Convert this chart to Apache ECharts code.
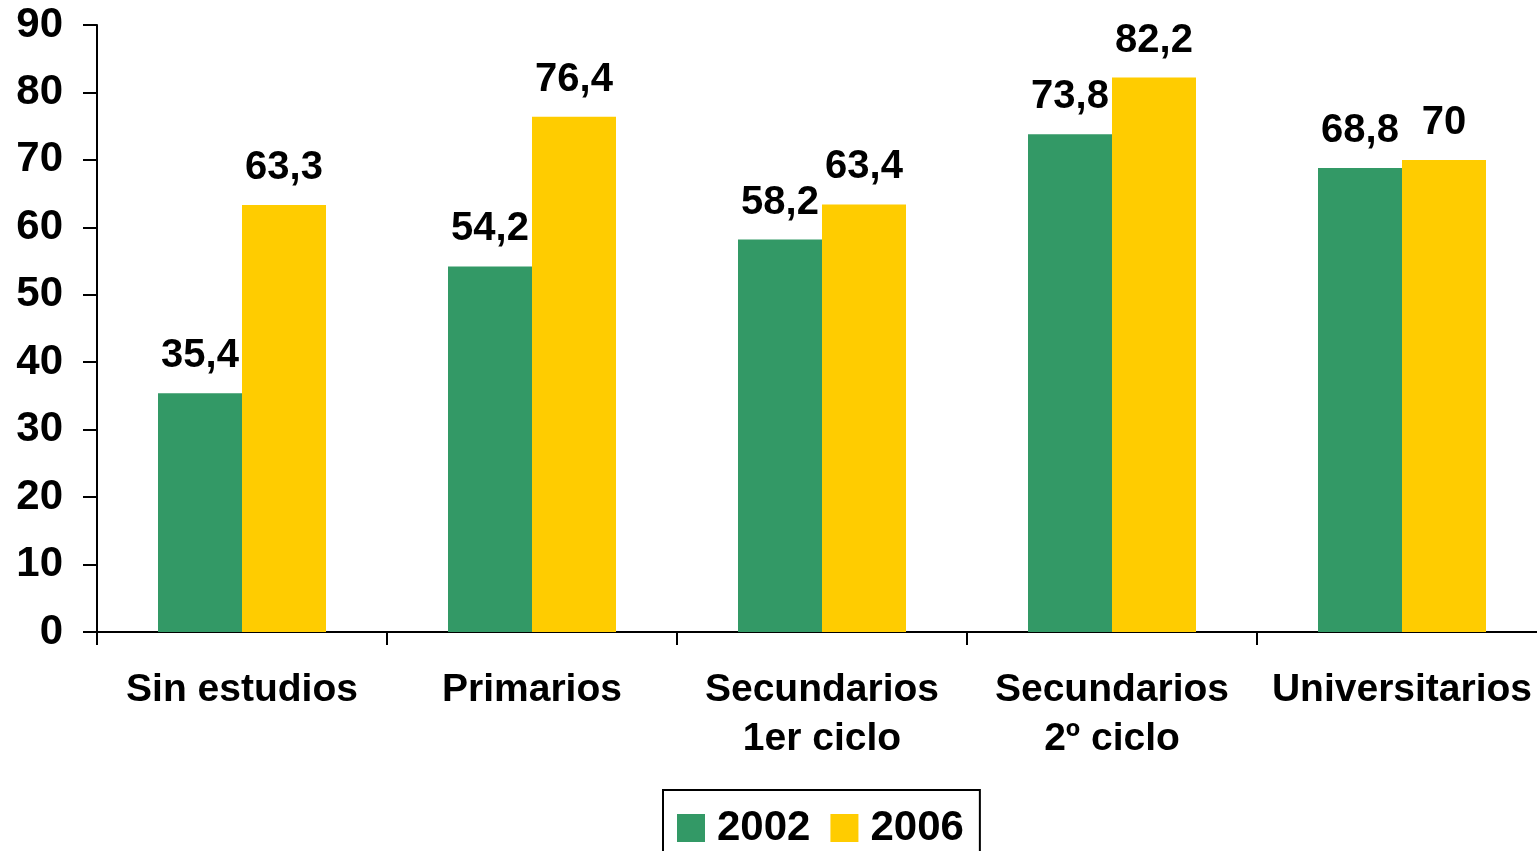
<!DOCTYPE html>
<html>
<head>
<meta charset="utf-8">
<script src="https://cdn.jsdelivr.net/npm/echarts@6/dist/echarts.min.js"></script>
<style>
  html, body { margin: 0; padding: 0; background: #ffffff; }
  #chart { width: 1537px; height: 851px; }
</style>
</head>
<body>
<div id="chart"></div>
<script>
// Education levels (x axis) and percentages per survey year
const categories = ['Sin estudios', 'Primarios', 'Secundarios\n1er ciclo', 'Secundarios\n2º ciclo', 'Universitarios'];
const values2002 = [35.4, 54.2, 58.2, 73.8, 68.8];
const values2006 = [63.3, 76.4, 63.4, 82.2, 70];
const seriesNames = ['2002', '2006'];
const yTicks = { min: 0, max: 90, interval: 10 };

const FONT = '"Liberation Sans", Arial, sans-serif';
const GREEN = '#339966';
const YELLOW = '#FFCC00';

const valueLabel = {
  show: true,
  position: 'top',
  distance: 17,
  color: '#000',
  fontFamily: FONT,
  fontWeight: 'bold',
  fontSize: 40,
  formatter: p => String(p.value).replace('.', ',')
};

const chart = echarts.init(document.getElementById('chart'), null, { renderer: 'canvas' });
chart.setOption({
  animation: false,
  backgroundColor: '#ffffff',
  // plot area runs a little past the right edge of the canvas
  grid: { left: 97, top: 25, bottom: 219, width: 1450, containLabel: false, outerBoundsMode: 'none' },
  legend: {
    data: seriesNames,
    left: 663,
    top: 790,
    orient: 'horizontal',
    icon: 'rect',
    itemWidth: 28,
    itemHeight: 28,
    itemGap: 20,
    padding: [17, 16, 19, 14],
    borderColor: '#000',
    borderWidth: 2,
    textStyle: { color: '#000', fontFamily: FONT, fontWeight: 'bold', fontSize: 42, padding: [0, 0, 0, 7] }
  },
  xAxis: {
    type: 'category',
    data: categories,
    axisLine: { show: true, lineStyle: { color: '#000', width: 2 } },
    axisTick: { show: true, length: 13, lineStyle: { color: '#000', width: 2 } },
    axisLabel: {
      color: '#000', fontFamily: FONT, fontWeight: 'bold', fontSize: 39,
      lineHeight: 49, margin: 34, interval: 0
    }
  },
  yAxis: {
    type: 'value',
    min: yTicks.min,
    max: yTicks.max,
    interval: yTicks.interval,
    splitLine: { show: false },
    axisLine: { show: true, lineStyle: { color: '#000', width: 2 } },
    axisTick: { show: true, length: 14, lineStyle: { color: '#000', width: 2 } },
    axisLabel: { color: '#000', fontFamily: FONT, fontWeight: 'bold', fontSize: 42, margin: 34 }
  },
  series: [
    {
      name: seriesNames[0], type: 'bar', data: values2002,
      barWidth: 84, barGap: '0%',
      itemStyle: { color: GREEN },
      label: valueLabel
    },
    {
      name: seriesNames[1], type: 'bar', data: values2006,
      barWidth: 84, barGap: '0%',
      itemStyle: { color: YELLOW },
      label: valueLabel
    }
  ]
});
</script>
</body>
</html>
